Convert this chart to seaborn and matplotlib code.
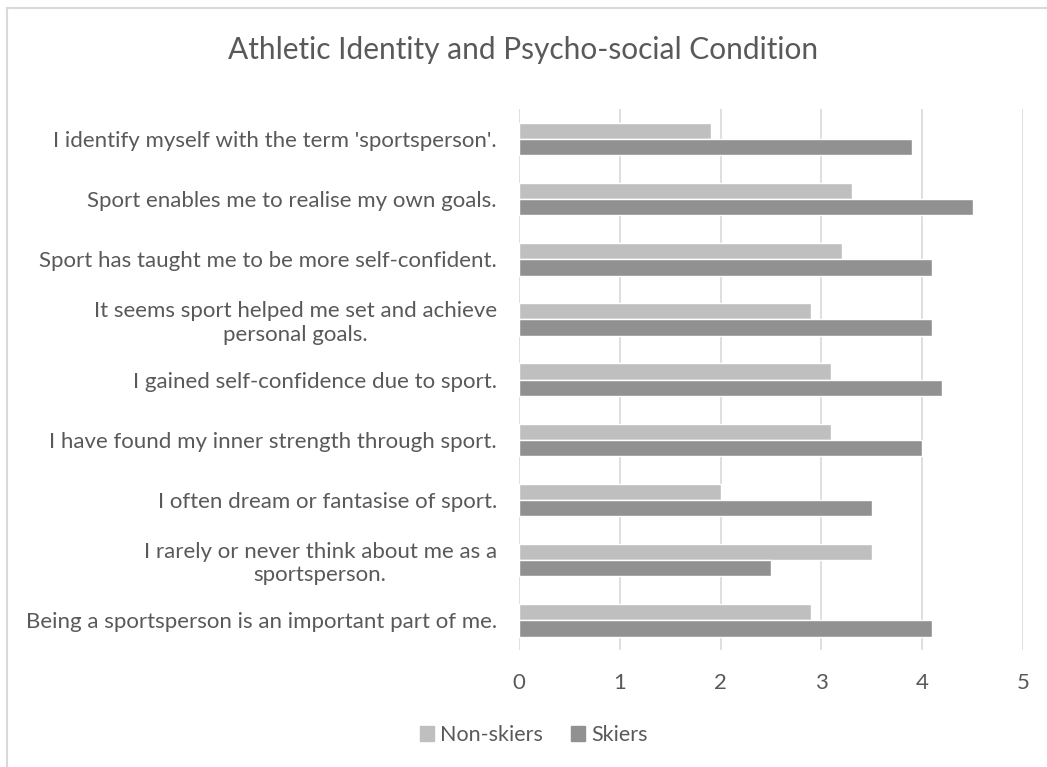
import matplotlib
matplotlib.use("Agg")
import matplotlib.pyplot as plt
import seaborn as sns
import pandas as pd
from matplotlib.patches import Rectangle
from matplotlib.lines import Line2D

# Données (de haut en bas)
statements = [
    "I identify myself with the term 'sportsperson'.",
    "Sport enables me to realise my own goals.",
    "Sport has taught me to be more self-confident.",
    "It seems sport helped me set and achieve\npersonal goals.",
    "I gained self-confidence due to sport.",
    "I have found my inner strength through sport.",
    "I often dream or fantasise of sport.",
    "I rarely or never think about me as a\nsportsperson.",
    "Being a sportsperson is an important part of me.",
]
non_skiers = [1.9, 3.3, 3.2, 2.9, 3.1, 3.1, 2.0, 3.5, 2.9]
skiers = [3.9, 4.5, 4.1, 4.1, 4.2, 4.0, 3.5, 2.5, 4.1]
groups = ["Non-skiers", "Skiers"]
colors = ["#BFBFBF", "#919191"]

df = pd.DataFrame({
    "statement": statements * 2,
    "score": non_skiers + skiers,
    "group": [groups[0]] * len(statements) + [groups[1]] * len(statements),
})

sns.set_style("white")
plt.rcParams["font.family"] = ["Lato", "DejaVu Sans"]
text_col = "#595959"

fig = plt.figure(figsize=(10.47, 7.67), dpi=100)
ax = fig.add_axes([0.4957, 0.152, 0.4814, 0.706])

sns.barplot(data=df, x="score", y="statement", hue="group", orient="h",
            order=statements, hue_order=groups, palette=colors,
            width=0.54, saturation=1, ax=ax, legend=False)

ax.set_xlim(0, 5)
ax.set_ylim(len(statements) - 0.5, -0.5)
ax.set_xticks(range(6))
ax.xaxis.grid(True, color="#D9D9D9", linewidth=1.2)
ax.set_axisbelow(True)
for s in ax.spines.values():
    s.set_visible(False)
ax.set_xlabel("")
ax.set_ylabel("")
ax.tick_params(axis="x", length=0, pad=16, labelsize=16, labelcolor=text_col)
ax.tick_params(axis="y", length=0, pad=16, labelsize=16, labelcolor=text_col)
for lbl in ax.get_yticklabels():
    lbl.set_horizontalalignment("right")
    lbl.set_multialignment("center")

fig.text(0.5, 1 - 50 / 767, "Athletic Identity and Psycho-social Condition",
         ha="center", va="center", fontsize=21.5, color=text_col)

handles = [Rectangle((0, 0), 1, 1, color=c) for c in colors]
fig.legend(handles, groups, loc="center", bbox_to_anchor=(0.51, 1 - 735 / 767),
           ncol=2, frameon=False, fontsize=15.5, labelcolor=text_col,
           handlelength=0.65, handleheight=0.65, handletextpad=0.3,
           columnspacing=1.3)

# bordure de la zone du graphique (haut et gauche)
fig.add_artist(Line2D([7 / 1047, 1], [1 - 8 / 767, 1 - 8 / 767], transform=fig.transFigure,
                      color="#D9D9D9", linewidth=1.5))
fig.add_artist(Line2D([7 / 1047, 7 / 1047], [0, 1 - 8 / 767], transform=fig.transFigure,
                      color="#D9D9D9", linewidth=1.5))

fig.savefig("out.png", dpi=100)
